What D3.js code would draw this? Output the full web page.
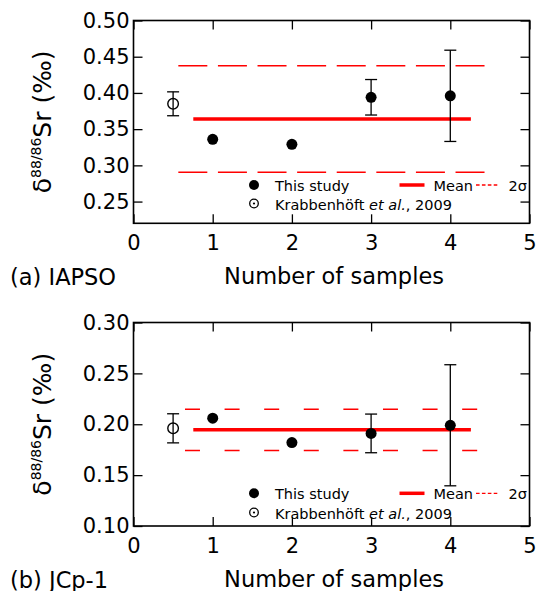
<!DOCTYPE html>
<html>
<head>
<meta charset="utf-8">
<script src="https://cdn.jsdelivr.net/npm/d3@7"></script>
<style>
  body { margin: 0; background: #fff; }
  text { font-family: "DejaVu Sans", sans-serif; fill: #000; }
</style>
</head>
<body>
<div id="container"></div>
<script>
// shared x axis
const xTickValues = [0, 1, 2, 3, 4, 5];
const sampleNumbers = [1, 2, 3, 4];
const litPosition = 0.5;
const meanSpan = [0.755, 4.26];

// (a) IAPSO
const iapsoYTicks = [0.25, 0.30, 0.35, 0.40, 0.45, 0.50];
const iapsoStudy = [0.336, 0.329, 0.394, 0.396];
const iapsoStudyErr = [0, 0, 0.0245, 0.063];
const iapsoLit = 0.385;
const iapsoLitErr = 0.0165;
const iapsoMean = 0.364;
const iapsoTwoSigma = [0.2905, 0.4375];
const iapsoSigmaSpan = [0.566, 4.455];

// (b) JCp-1
const jcpYTicks = [0.10, 0.15, 0.20, 0.25, 0.30];
const jcpStudy = [0.206, 0.182, 0.191, 0.199];
const jcpStudyErr = [0, 0, 0.019, 0.0595];
const jcpLit = 0.196;
const jcpLitErr = 0.0143;
const jcpMean = 0.1945;
const jcpTwoSigma = [0.1742, 0.2147];
const jcpSigmaSpan = [0.65, 4.355];

const red = '#ff0000';
const w = 537;
const h = 591;

const svg = d3.select('#container')
    .append('svg')
    .attr('width', w)
    .attr('height', h);

const xScale = d3.scaleLinear()
    .domain([0, 5])
    .range([133.5, 529.5]);

const panels = [
    {
        name: '(a) IAPSO', top: 20.5, bottom: 223.3, yDomain: [0.22, 0.50], yTicks: iapsoYTicks,
        study: iapsoStudy, studyErr: iapsoStudyErr, lit: iapsoLit, litErr: iapsoLitErr,
        mean: iapsoMean, twoSigma: iapsoTwoSigma, sigmaSpan: iapsoSigmaSpan,
        dash: '29,10.6', legendY: [185, 203.5], tickFmt: d3.format('.2f')
    },
    {
        name: '(b) JCp-1', top: 322.5, bottom: 526, yDomain: [0.10, 0.30], yTicks: jcpYTicks,
        study: jcpStudy, studyErr: jcpStudyErr, lit: jcpLit, litErr: jcpLitErr,
        mean: jcpMean, twoSigma: jcpTwoSigma, sigmaSpan: jcpSigmaSpan,
        dash: '15,24.6', legendY: [493.3, 512.5], tickFmt: d3.format('.2f')
    }
];

const errorBar = (g, cx, yScale, v, e) => {
    const bar = g.append('g').attr('stroke', '#000').attr('stroke-width', 1.3);
    bar.append('line')
        .attr('x1', cx).attr('x2', cx)
        .attr('y1', yScale(v - e)).attr('y2', yScale(v + e));
    [v - e, v + e].forEach(t => {
        bar.append('line')
            .attr('x1', cx - 6).attr('x2', cx + 6)
            .attr('y1', yScale(t)).attr('y2', yScale(t));
    });
};

panels.forEach(p => {
    const yScale = d3.scaleLinear()
        .domain(p.yDomain)
        .range([p.bottom, p.top]);

    const g = svg.append('g').attr('class', 'panel');

    // 2 sigma lines
    g.selectAll('line.sigma')
        .data(p.twoSigma)
        .join('line')
        .attr('class', 'sigma')
        .attr('x1', xScale(p.sigmaSpan[0]))
        .attr('x2', xScale(p.sigmaSpan[1]))
        .attr('y1', d => yScale(d))
        .attr('y2', d => yScale(d))
        .attr('stroke', red)
        .attr('stroke-width', 1.5)
        .attr('stroke-dasharray', p.dash);

    // mean line
    g.append('line')
        .attr('x1', xScale(meanSpan[0]))
        .attr('x2', xScale(meanSpan[1]))
        .attr('y1', yScale(p.mean))
        .attr('y2', yScale(p.mean))
        .attr('stroke', red)
        .attr('stroke-width', 3.5);

    // literature value
    errorBar(g, xScale(litPosition), yScale, p.lit, p.litErr);
    g.append('circle')
        .attr('cx', xScale(litPosition))
        .attr('cy', yScale(p.lit))
        .attr('r', 5.3)
        .attr('fill', 'none')
        .attr('stroke', '#000')
        .attr('stroke-width', 1.4);

    // this study
    p.study.forEach((v, i) => {
        if (p.studyErr[i] > 0) errorBar(g, xScale(sampleNumbers[i]), yScale, v, p.studyErr[i]);
    });
    g.selectAll('circle.study')
        .data(p.study)
        .join('circle')
        .attr('class', 'study')
        .attr('cx', (d, i) => xScale(sampleNumbers[i]))
        .attr('cy', d => yScale(d))
        .attr('r', 5.5)
        .attr('fill', '#000');

    // legend
    const [ly1, ly2] = p.legendY;
    const legend = g.append('g');
    legend.append('circle').attr('cx', 254).attr('cy', ly1).attr('r', 5).attr('fill', '#000');
    legend.append('text').attr('x', 275).attr('y', ly1 + 6).attr('font-size', 14.5).text('This study');
    legend.append('circle').attr('cx', 254).attr('cy', ly2).attr('r', 4.3)
        .attr('fill', 'none').attr('stroke', '#000').attr('stroke-width', 1.3);
    legend.append('circle').attr('cx', 254).attr('cy', ly2).attr('r', 1.1).attr('fill', '#000');
    const lit = legend.append('text').attr('x', 275).attr('y', ly2 + 6).attr('font-size', 14.5);
    lit.append('tspan').text('Krabbenhöft ');
    lit.append('tspan').attr('font-style', 'italic').text('et al.');
    lit.append('tspan').text(', 2009');
    legend.append('line').attr('x1', 399.5).attr('x2', 424.5).attr('y1', ly1).attr('y2', ly1)
        .attr('stroke', red).attr('stroke-width', 3.5);
    legend.append('text').attr('x', 433.5).attr('y', ly1 + 6).attr('font-size', 14.5).text('Mean');
    legend.append('line').attr('x1', 476).attr('x2', 497.5).attr('y1', ly1).attr('y2', ly1)
        .attr('stroke', red).attr('stroke-width', 1.3).attr('stroke-dasharray', '3.6,2.3');
    legend.append('text').attr('x', 508.5).attr('y', ly1 + 6).attr('font-size', 14.5).text('2σ');

    // axes, ticks pointing inward
    const left = g.append('g')
        .attr('transform', `translate(${xScale(0)},0)`)
        .call(d3.axisLeft(yScale).tickValues(p.yTicks).tickSize(-9).tickSizeOuter(0)
            .tickPadding(4).tickFormat(p.tickFmt));
    const right = g.append('g')
        .attr('transform', `translate(${xScale(5)},0)`)
        .call(d3.axisRight(yScale).tickValues(p.yTicks).tickSize(-9).tickSizeOuter(0).tickFormat(''));
    const bottom = g.append('g')
        .attr('transform', `translate(0,${p.bottom})`)
        .call(d3.axisBottom(xScale).tickValues(xTickValues).tickSize(-9).tickSizeOuter(0)
            .tickPadding(12).tickFormat(d3.format('d')));
    const top = g.append('g')
        .attr('transform', `translate(0,${p.top})`)
        .call(d3.axisTop(xScale).tickValues(xTickValues).tickSize(-9).tickSizeOuter(0).tickFormat(''));

    [left, right, bottom, top].forEach(a => {
        a.select('.domain').remove();
        a.selectAll('.tick line').attr('stroke', '#000').attr('stroke-width', 1.3);
        a.selectAll('.tick text').attr('font-size', 21).attr('font-family', '"DejaVu Sans", sans-serif');
    });

    // frame
    g.append('rect')
        .attr('x', xScale(0))
        .attr('y', p.top)
        .attr('width', xScale(5) - xScale(0))
        .attr('height', p.bottom - p.top)
        .attr('fill', 'none')
        .attr('stroke', '#000')
        .attr('stroke-width', 1.6);

    // y label
    const cy = (p.top + p.bottom) / 2;
    const ylab = g.append('text')
        .attr('transform', `translate(51,${cy}) rotate(-90)`)
        .attr('text-anchor', 'middle')
        .attr('font-size', 25);
    ylab.append('tspan').text('δ');
    ylab.append('tspan').attr('font-size', 14).attr('dy', -10.5).text('88/86');
    ylab.append('tspan').attr('dy', 10.5).text('Sr (‰)');

    // x label and panel name
    g.append('text')
        .attr('x', 334)
        .attr('y', p.bottom + 60.5)
        .attr('text-anchor', 'middle')
        .attr('font-size', 22.5)
        .text('Number of samples');
    g.append('text')
        .attr('x', 10)
        .attr('y', p.bottom + 61.5)
        .attr('font-size', 22.5)
        .text(p.name);
});
</script>
</body>
</html>
